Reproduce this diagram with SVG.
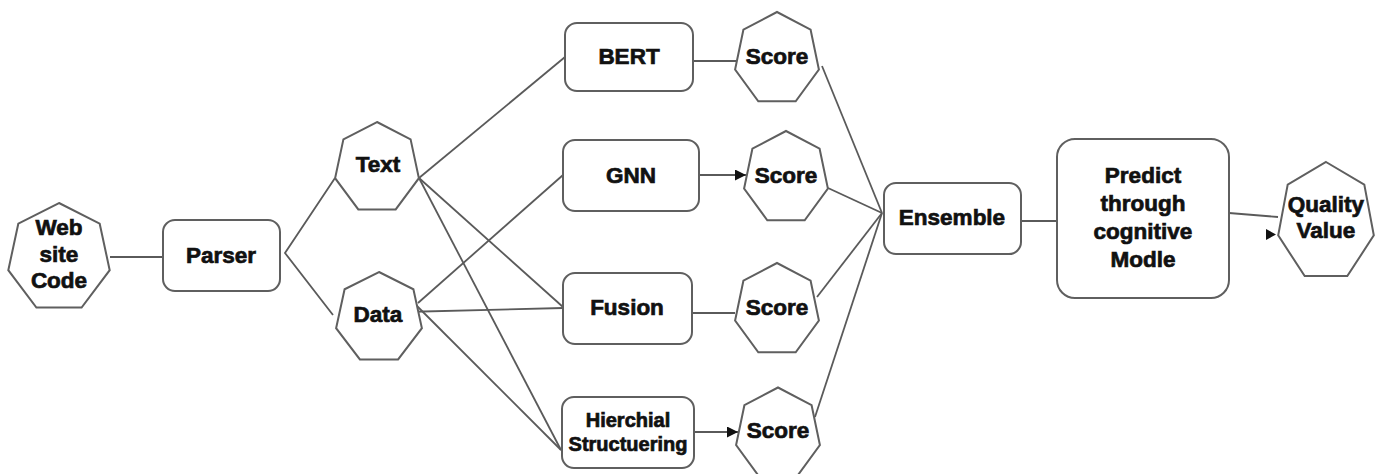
<svg xmlns="http://www.w3.org/2000/svg" width="1381" height="474" viewBox="0 0 1381 474">
<style>
.shape{fill:#ffffff;stroke:#5f5f5f;stroke-width:2}
.edge{fill:none;stroke:#5a5a5a;stroke-width:1.8}
.lbl{font-family:"Liberation Sans",Arial,sans-serif;font-weight:bold;font-size:22.5px;fill:#111;stroke:#111;stroke-width:0.7;text-anchor:middle}
.sm{font-size:20px}
</style>
<defs>
<marker id="arr" viewBox="0 0 10 10" refX="10" refY="5" markerWidth="11" markerHeight="11" markerUnits="userSpaceOnUse" orient="auto">
<path d="M0,0 L10,5 L0,10 z" fill="#111"/>
</marker>
</defs>
<rect width="1381" height="474" fill="#ffffff"/>
<g id="connectors">
<line class="edge" x1="110" y1="257" x2="163" y2="257"/>
<polyline class="edge" points="335,178 285,253 333,315"/>
<line class="edge" x1="419" y1="178" x2="565" y2="57"/>
<line class="edge" x1="419" y1="178" x2="563" y2="307"/>
<line class="edge" x1="419" y1="178" x2="561" y2="450"/>
<line class="edge" x1="418" y1="303" x2="563" y2="175"/>
<line class="edge" x1="403" y1="312" x2="563" y2="308"/>
<line class="edge" x1="416" y1="305" x2="561" y2="450"/>
<line class="edge" x1="690" y1="61" x2="736" y2="61"/>
<line class="edge" x1="699" y1="175" x2="746" y2="175" marker-end="url(#arr)"/>
<line class="edge" x1="692" y1="313" x2="735" y2="313"/>
<line class="edge" x1="694" y1="432" x2="738" y2="432" marker-end="url(#arr)"/>
<line class="edge" x1="822" y1="66" x2="882" y2="213"/>
<line class="edge" x1="828" y1="188" x2="882" y2="213"/>
<line class="edge" x1="817" y1="297" x2="882" y2="213"/>
<line class="edge" x1="815" y1="417" x2="882" y2="213"/>
<line class="edge" x1="1021" y1="221" x2="1057" y2="221"/>
<line class="edge" x1="1229" y1="213" x2="1278" y2="217"/>
<path d="M1266,229 L1276,234.5 L1266,240 z" fill="#111"/>
</g>
<g id="website">
<polygon class="shape" points="59,203 99.7,223.7 109.7,270.2 81.6,307.6 36.4,307.6 8.3,270.2 18.3,223.7"/>
<text class="lbl" x="59" y="235">Web</text>
<text class="lbl" x="59" y="262">site</text>
<text class="lbl" x="59" y="288">Code</text>
</g>
<g id="parser">
<rect class="shape" x="163" y="220" width="117" height="71" rx="12"/>
<text class="lbl" x="221" y="263">Parser</text>
</g>
<g id="text">
<polygon class="shape" points="377,122 410.6,139.3 418.9,178.2 395.7,209.4 358.3,209.4 335.1,178.2 343.4,139.3"/>
<text class="lbl" x="378" y="172">Text</text>
</g>
<g id="data">
<polygon class="shape" points="379,272 413.4,289.3 421.9,328.2 398.1,359.4 359.9,359.4 336.1,328.2 344.6,289.3"/>
<text class="lbl" x="378" y="322">Data</text>
</g>
<g id="bert">
<rect class="shape" x="565" y="23" width="128" height="68" rx="12"/>
<text class="lbl" x="629" y="64">BERT</text>
</g>
<g id="gnn">
<rect class="shape" x="563" y="140" width="136" height="71" rx="12"/>
<text class="lbl" x="631" y="183">GNN</text>
</g>
<g id="fusion">
<rect class="shape" x="563" y="273" width="129" height="71" rx="12"/>
<text class="lbl" x="627" y="315">Fusion</text>
</g>
<g id="hierchial">
<rect class="shape" x="562" y="397" width="132" height="71" rx="12"/>
<text class="lbl sm" x="628" y="427">Hierchial</text>
<text class="lbl sm" x="628" y="451">Structuering</text>
</g>
<g id="score1">
<polygon class="shape" points="777,12 810.6,29.7 818.9,69.5 795.7,101.3 758.3,101.3 735.1,69.5 743.4,29.7"/>
<text class="lbl" x="777" y="64">Score</text>
</g>
<g id="score2">
<polygon class="shape" points="786,131 819.6,148.7 827.9,188.5 804.7,220.3 767.3,220.3 744.1,188.5 752.4,148.7"/>
<text class="lbl" x="786" y="183">Score</text>
</g>
<g id="score3">
<polygon class="shape" points="777,263 810.6,280.7 818.9,320.5 795.7,352.3 758.3,352.3 735.1,320.5 743.4,280.7"/>
<text class="lbl" x="777" y="315">Score</text>
</g>
<g id="score4">
<polygon class="shape" points="778,387.5 811.6,405.2 819.9,445 796.7,476.8 759.3,476.8 736.1,445 744.4,405.2"/>
<text class="lbl" x="778" y="438">Score</text>
</g>
<g id="ensemble">
<rect class="shape" x="884" y="183" width="137" height="71" rx="12"/>
<text class="lbl" x="952" y="225">Ensemble</text>
</g>
<g id="predict">
<rect class="shape" x="1057" y="139" width="172" height="159" rx="18"/>
<text class="lbl" x="1143" y="183">Predict</text>
<text class="lbl" x="1143" y="211">through</text>
<text class="lbl" x="1143" y="239">cognitive</text>
<text class="lbl" x="1143" y="267">Modle</text>
</g>
<g id="quality">
<polygon class="shape" points="1326,162 1364.3,184.6 1373.8,235.4 1347.3,276.1 1304.7,276.1 1278.2,235.4 1287.7,184.6"/>
<text class="lbl" x="1326" y="212">Quality</text>
<text class="lbl" x="1326" y="238">Value</text>
</g>
</svg>
